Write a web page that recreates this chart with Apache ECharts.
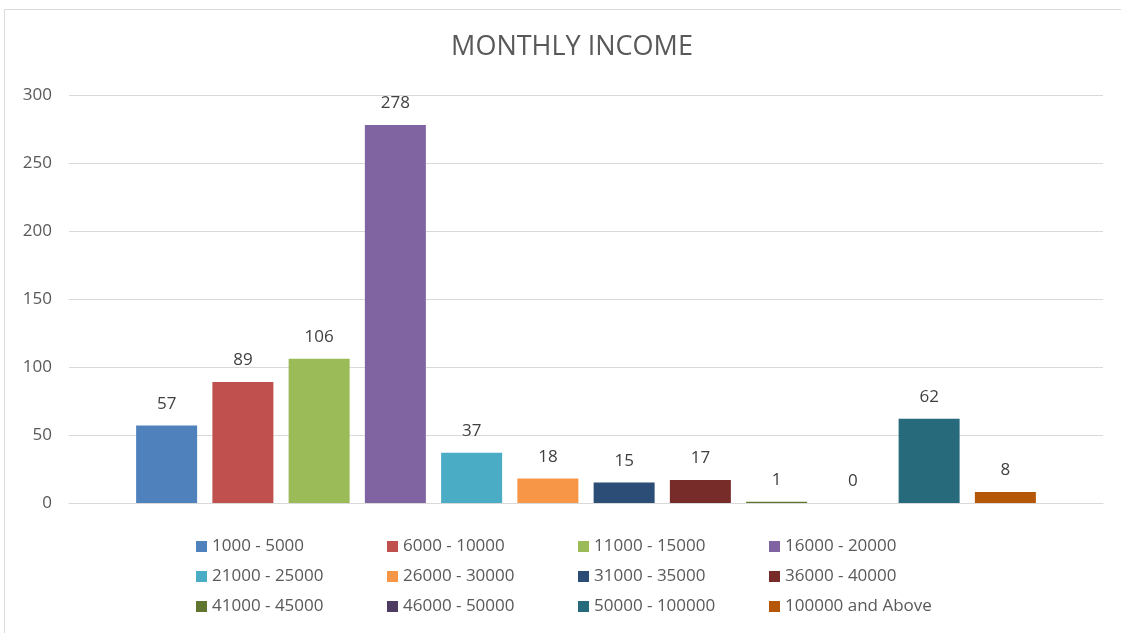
<!DOCTYPE html>
<html>
<head>
<meta charset="utf-8">
<script src="https://cdn.jsdelivr.net/npm/echarts@6/dist/echarts.min.js"></script>
<style>
  html, body { margin: 0; padding: 0; background: #fff; }
  #chart { width: 1121px; height: 633px; }
</style>
</head>
<body>
<div id="chart"></div>
<script>
// income brackets and counts
const brackets = [
  "1000 - 5000", "6000 - 10000", "11000 - 15000", "16000 - 20000",
  "21000 - 25000", "26000 - 30000", "31000 - 35000", "36000 - 40000",
  "41000 - 45000", "46000 - 50000", "50000 - 100000", "100000 and Above"
];
const counts = [57, 89, 106, 278, 37, 18, 15, 17, 1, 0, 62, 8];
const colors = [
  "#4F81BD", "#C0504D", "#9BBB59", "#8064A2", "#4BACC6", "#F79646",
  "#2C4D75", "#772C2A", "#5F7530", "#4D3B62", "#276A7C", "#B65708"
];
const yTicks = { min: 0, max: 300, interval: 50 };

const chart = echarts.init(document.getElementById("chart"));

const seriesList = brackets.map((name, i) => ({
  name: name,
  type: "bar",
  data: [counts[i]],
  barWidth: 61,
  barGap: "25%",
  itemStyle: { color: colors[i] },
  label: {
    show: true,
    position: "top",
    distance: 13,
    color: "#404040",
    fontFamily: "Open Sans",
    fontSize: 17
  }
}));

// excel-like legend grid: 4 columns, 3 rows
const legends = brackets.map((name, i) => ({
  data: [name],
  left: 196 + (i % 4) * 191,
  top: 538 + Math.floor(i / 4) * 30,
  padding: 0,
  icon: "rect",
  itemWidth: 11,
  itemHeight: 11,
  textStyle: {
    color: "#595959",
    fontFamily: "Open Sans",
    fontSize: 17
  }
}));

chart.setOption({
  color: colors,
  animation: false,
  title: {
    text: "MONTHLY INCOME",
    left: 567,
    top: 29,
    textAlign: "center",
    textStyle: {
      color: "#595959",
      fontFamily: "Open Sans",
      fontWeight: "normal",
      fontSize: 27
    }
  },
  graphic: [{
    type: "rect",
    shape: { x: 4.5, y: 9.5, width: 1200, height: 700 },
    style: { fill: "none", stroke: "#d9d9d9", lineWidth: 1 },
    silent: true
  }],
  legend: legends,
  grid: {
    left: 69,
    right: 18,
    top: 95,
    bottom: 130
  },
  xAxis: {
    type: "category",
    data: [""],
    axisLine: { lineStyle: { color: "#d9d9d9" } },
    axisTick: { show: false },
    axisLabel: { show: false }
  },
  yAxis: {
    type: "value",
    min: yTicks.min,
    max: yTicks.max,
    interval: yTicks.interval,
    axisLine: { show: false },
    axisTick: { show: false },
    splitLine: { lineStyle: { color: "#d9d9d9" } },
    axisLabel: {
      color: "#595959",
      fontFamily: "Open Sans",
      fontSize: 17,
      margin: 17
    }
  },
  series: seriesList
});
</script>
</body>
</html>
